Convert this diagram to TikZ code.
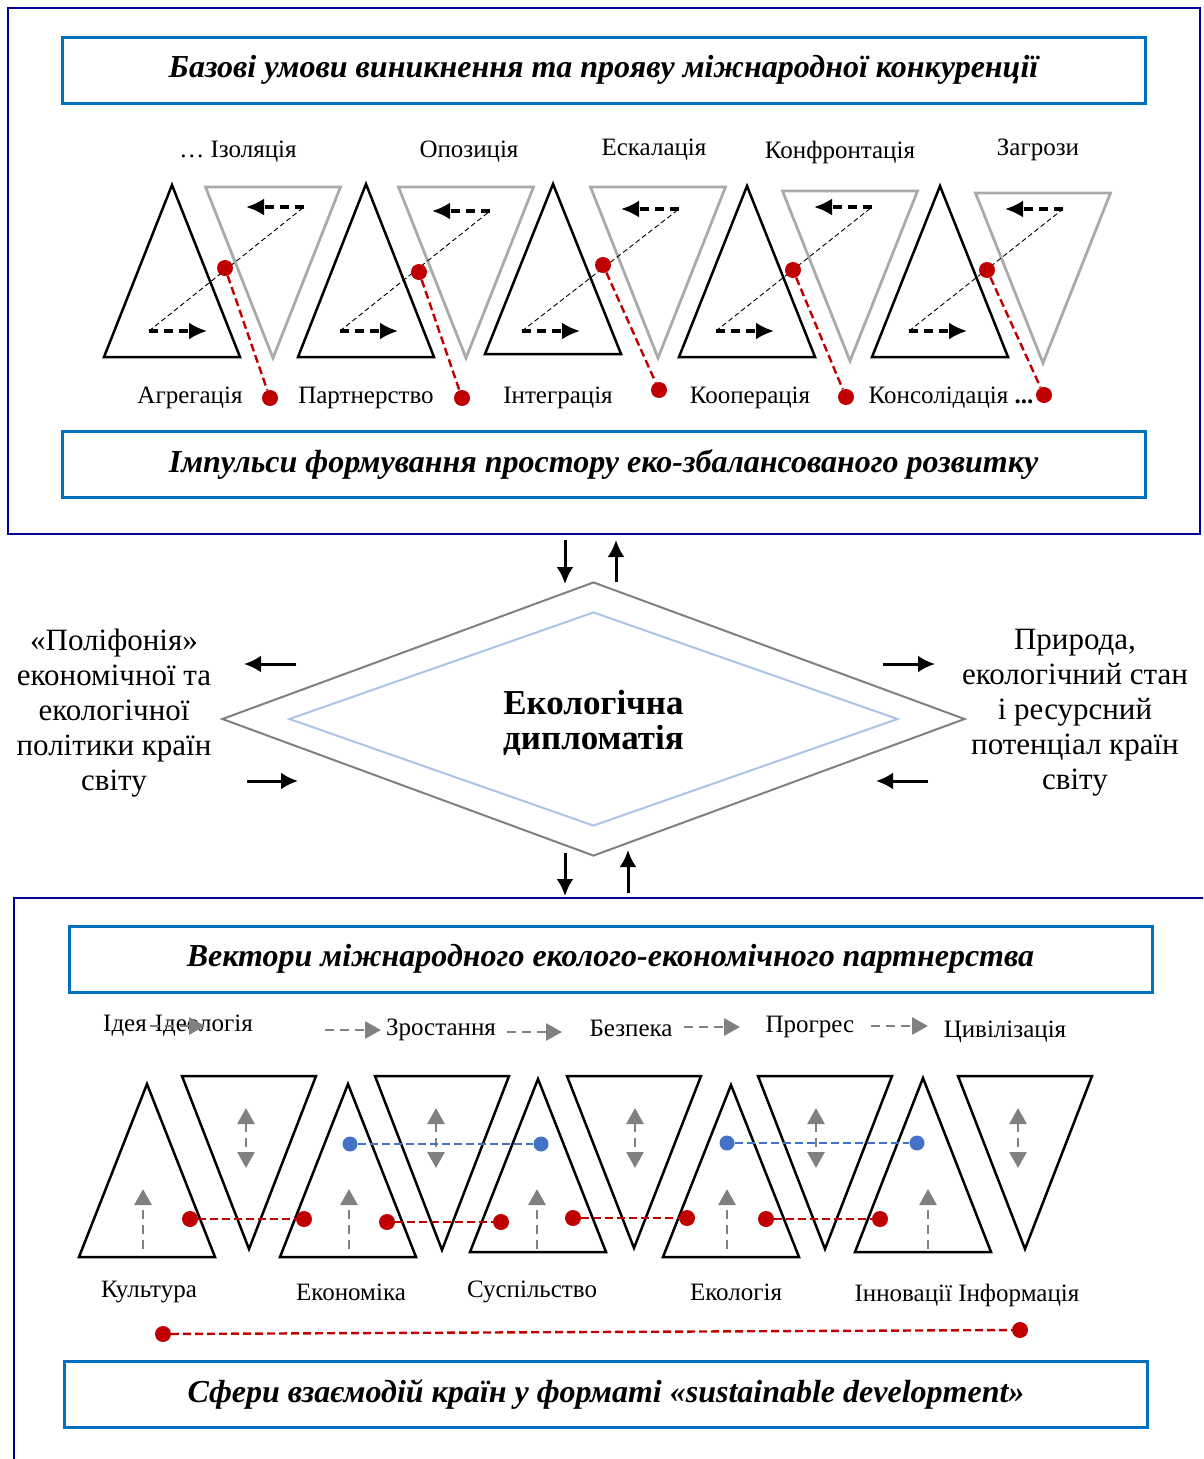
\documentclass[tikz,border=0pt]{standalone}
\usepackage{fontspec}
\setmainfont{Liberation Serif}
\usepackage{tikz}
\usetikzlibrary{arrows.meta,shapes.geometric,positioning,calc}

\definecolor{framenavy}{RGB}{0,0,150}
\definecolor{titleblue}{RGB}{0,112,192}
\definecolor{trigray}{RGB}{170,170,170}
\definecolor{diamgray}{RGB}{128,128,128}
\definecolor{innerblue}{RGB}{170,195,230}
\definecolor{dotred}{RGB}{192,0,0}
\definecolor{dotblue}{RGB}{68,114,196}
\definecolor{flowgray}{RGB}{128,128,128}

\tikzset{%
  >={Latex[length=18pt,width=17pt]},
  outerframe/.style={draw=framenavy,line width=2.5pt},
  headline/.style={draw=titleblue,line width=3pt,fill=white,minimum width=1083pt,minimum height=66pt,inner sep=0pt,font=\fontsize{32}{38}\selectfont\bfseries\itshape},
  stage/.style={font=\fontsize{25}{30}\selectfont,inner sep=0pt},
  sidetext/.style={font=\fontsize{31}{35}\selectfont,align=center,inner sep=0pt},
  uptri/.style={draw=black,line width=2.5pt},
  downtri/.style={draw=trigray,line width=2.8pt},
  push/.style={->,line width=3.2pt,dash pattern=on 9pt off 6pt},
  thin diag/.style={line width=0.9pt,dash pattern=on 5pt off 3pt},
  reddot/.style={circle,fill=dotred,inner sep=0pt,minimum size=16pt},
  bluedot/.style={circle,fill=dotblue,inner sep=0pt,minimum size=15pt},
  redlink/.style={draw=dotred,line width=2.4pt,dash pattern=on 8pt off 4pt},
  bluelink/.style={draw=dotblue,line width=2.2pt,dash pattern=on 8pt off 4pt},
  flow/.style={-{Latex[length=17pt,width=17pt]},line width=3pt},
  grayflow/.style={draw=flowgray,line width=2.8pt,dash pattern=on 9pt off 6pt,-{Triangle[length=16pt,width=17pt]}},
  graytwin/.style={draw=flowgray,line width=2.8pt,dash pattern=on 9pt off 6pt,{Triangle[length=16pt,width=17pt]}-{Triangle[length=16pt,width=17pt]}},
}

\begin{document}
\begin{tikzpicture}[x=1pt,y=-1pt]
	\useasboundingbox (0,0) rectangle (1203,1459);
	\clip (0,0) rectangle (1203,1459);
	
	% upper block
	\draw[outerframe] (8,8) rectangle (1200,534);
	\node[headline] (conditions) at (603.5,70) {Базові умови виникнення та прояву міжнародної конкуренції};
	\node[headline] (impulses) at (603.5,464) {Імпульси формування простору еко-збалансованого розвитку};
	
	\foreach \ux/\uy/\ub/\dx/\dt/\da in {172/185/357/273/187/358,366/184/357/466/187/358,553/184/354/658/187/358,747/186/357/850/191/361,940/186/357/1043/193/363} {%
		\draw[uptri] (\ux,\uy) -- (\ux+68,\ub) -- (\ux-68,\ub) -- cycle;
		\draw[downtri] (\dx-67.5,\dt) -- (\dx+67.5,\dt) -- (\dx,\da) -- cycle;
	}
	
	\foreach \i/\rx/\lx/\ly in {1/149/304/207,2/340/490/211,3/522/679/209,4/716/872/207,5/909/1063/209} {%
		\coordinate (push start \i) at (\rx,331);
		\coordinate (push end \i) at (\rx+58,331);
		\coordinate (pull start \i) at (\lx,\ly);
		\coordinate (pull end \i) at (\lx-58,\ly);
		\draw[thin diag] (push start \i) -- (pull start \i);
		\draw[push] (push start \i) -- (push end \i);
		\draw[push] (pull start \i) -- (pull end \i);
	}
	
	\foreach \i/\ax/\ay/\bx/\by in {1/225/268/270/398,2/419/272/462/398,3/603/265/659/390,4/793/270/846/397,5/987/270/1044/395} {%
		\node[reddot] (impulse top \i) at (\ax,\ay) {};
		\node[reddot] (impulse low \i) at (\bx,\by) {};
		\draw[redlink] (impulse top \i) -- (impulse low \i);
	}
	
	\begin{scope}[every node/.style={stage}]
	\node (isolation) at (238,152) {… Ізоляція};
	\node (opposition) at (469,152) {Опозиція};
	\node (escalation) at (654,150) {Ескалація};
	\node (confrontation) at (840,152) {Конфронтація};
	\node (threats) at (1038,150) {Загрози};
	\node (aggregation) at (190,398) {Агрегація};
	\node (partnership) at (366,398) {Партнерство};
	\node (integration) at (558,398) {Інтеграція};
	\node (cooperation) at (750,398) {Кооперація};
	\node (consolidation) at (951,398) {Консолідація \textbf{...}};
	\end{scope}
	
	% diplomacy
	\node[diamond,draw=diamgray,line width=2pt,minimum width=743pt,minimum height=274pt,inner sep=0pt] (diplomacy) at (593.5,719) {};
	\node[diamond,draw=innerblue,line width=2pt,minimum width=609pt,minimum height=214pt,inner sep=0pt] (diplomacy inner) at (593.5,719) {};
	\node[font=\fontsize{35}{35}\selectfont\bfseries,align=center,inner sep=0pt] (diplomacy text) at (593.5,723) {Екологічна\\дипломатія};
	
	\node[sidetext] (polyphony) at (114,713) {«Поліфонія»\\економічної та\\екологічної\\політики країн\\світу};
	\node[sidetext] (nature) at (1075,713) {Природа,\\екологічний стан\\і ресурсний\\потенціал країн\\світу};
	
	\foreach \n/\ax/\ay/\bx/\by in {top in/565/540/565/584,top out/616/582/616/540,low out/565/853/565/896,low in/628/893/628/850,left out/296/664/244/664,left in/247/781/298/781,right out/883/664/935/664,right in/928/781/876/781} {%
		\coordinate (\n a) at (\ax,\ay);
		\coordinate (\n b) at (\bx,\by);
		\draw[flow] (\n a) -- (\n b);
	}
	
	% lower block
	\draw[outerframe] (14,898) rectangle (1230,1490);
	\node[headline] (vectors) at (610.5,959) {Вектори міжнародного еколого-економічного партнерства};
	\node[headline] (spheres) at (606,1394) {Сфери взаємодій країн у форматі «sustainable development»};
	
	\begin{scope}[every node/.style={stage}]
	\node (idea) at (178,1026) {Ідея\hspace{8pt}Ідеологія};
	\node (growth) at (441,1030) {Зростання};
	\node (security) at (631,1028) {Безпека};
	\node (progress) at (810,1027) {Прогрес};
	\node (civilization) at (1005,1032) {Цивілізація};
	\node (culture) at (149,1292) {Культура};
	\node (economy) at (351,1292) {Економіка};
	\node (society) at (532,1292) {Суспільство};
	\node (ecology) at (736,1292) {Екологія};
	\node (innovation) at (967,1295) {Інновації Інформація};
	\end{scope}
	
	\foreach \i/\ax/\ay/\bx/\by in {1/150/1026/205/1026,2/325/1030/381/1030,3/507/1032/562/1032,4/684/1027/740/1027,5/871/1026/928/1026} {%
		\coordinate (step tail \i) at (\ax,\ay);
		\coordinate (step head \i) at (\bx,\by);
		\draw[grayflow] (step tail \i) -- (step head \i);
	}
	
	\foreach \ux/\uy/\ub/\dx/\da in {147/1084/1257/249/1249,348/1084/1257/442/1250,538/1079/1252/634/1248,731/1085/1257/825/1249,923/1078/1252/1025/1249} {%
		\draw[uptri] (\ux,\uy) -- (\ux+68,\ub) -- (\ux-68,\ub) -- cycle;
		\draw[uptri] (\dx-67,1076) -- (\dx+67,1076) -- (\dx,\da) -- cycle;
	}
	
	\foreach \i/\ux/\dx in {1/143/246,2/349/436,3/537/635,4/727/816,5/928/1018} {%
		\coordinate (rise base \i) at (\ux,1249);
		\coordinate (rise tip \i) at (\ux,1189);
		\coordinate (swing top \i) at (\dx,1108);
		\coordinate (swing low \i) at (\dx,1168);
		\draw[grayflow] (rise base \i) -- (rise tip \i);
		\draw[graytwin] (swing top \i) -- (swing low \i);
	}
	
	\foreach \i/\ax/\ay/\bx/\by in {1/190/1219/304/1219,2/387/1222/501/1222,3/573/1218/687/1218,4/766/1219/880/1219} {%
		\node[reddot] (sphere a\i) at (\ax,\ay) {};
		\node[reddot] (sphere b\i) at (\bx,\by) {};
		\draw[redlink] (sphere a\i) -- (sphere b\i);
	}
	\foreach \i/\ax/\ay/\bx/\by in {1/350/1144/541/1144,2/727/1143/917/1143} {%
		\node[bluedot] (vector a\i) at (\ax,\ay) {};
		\node[bluedot] (vector b\i) at (\bx,\by) {};
		\draw[bluelink] (vector a\i) -- (vector b\i);
	}
	\node[reddot] (span start) at (163,1334) {};
	\node[reddot] (span end) at (1020,1330) {};
	\draw[redlink] (span start) -- (span end);
\end{tikzpicture}
\end{document}
